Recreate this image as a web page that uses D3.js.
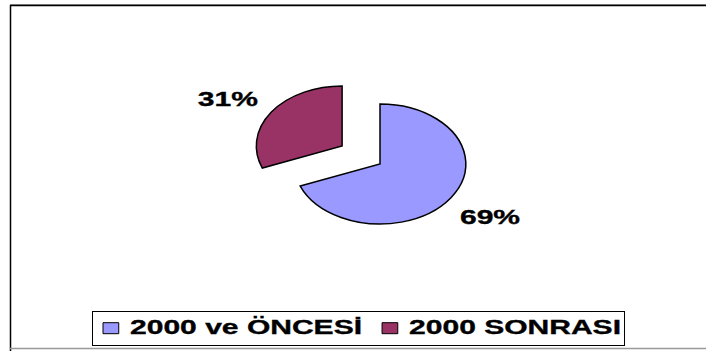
<!DOCTYPE html>
<html>
<head>
<meta charset="utf-8">
<script src="https://cdn.jsdelivr.net/npm/d3@7"></script>
<style>
  html, body { margin: 0; padding: 0; background: #fff; }
  svg { display: block; }
  text { font-family: "Liberation Sans", Arial, Helvetica, sans-serif; font-weight: bold; fill: #000;
         stroke: #000; stroke-width: 0.35px; }
</style>
</head>
<body>
<svg id="chart" width="706" height="351"></svg>
<script>
// ---- data ----
const categories = ["2000 ve ÖNCESİ", "2000 SONRASI"];
const values = [69, 31];
const labels = ["69%", "31%"];
const colors = ["#9999FF", "#993366"];
const explode = [0, 0.534];

// ---- layout ----
const W = 706, H = 351;
const sx = 1.43;          // horizontal stretch of the original picture
const R = 60;             // pie radius (before stretch)
const cx = 380, cy = 164; // pie centre
const fontSize = 21;

const svg = d3.select("#chart");

// frame
svg.append("line").attr("x1", 10).attr("y1", 4.5).attr("x2", W).attr("y2", 4.5)
  .attr("stroke", "#999").attr("stroke-width", 1);
svg.append("line").attr("x1", 10).attr("y1", 5.5).attr("x2", W).attr("y2", 5.5)
  .attr("stroke", "#000").attr("stroke-width", 1.5);
svg.append("line").attr("x1", 10.5).attr("y1", 5).attr("x2", 10.5).attr("y2", H)
  .attr("stroke", "#000").attr("stroke-width", 1.5);
svg.append("line").attr("x1", 10).attr("y1", 348.5).attr("x2", W).attr("y2", 348.5)
  .attr("stroke", "#999").attr("stroke-width", 1.5);

// pie
const pie = d3.pie().sort(null).value(d => d)(values);
const arc = d3.arc().innerRadius(0).outerRadius(R);
const labelArc = d3.arc().innerRadius(R * 1.55).outerRadius(R * 1.55);

const g = svg.append("g").attr("transform", `translate(${cx},${cy}) scale(${sx},1)`);

const slices = g.selectAll("g.slice").data(pie).enter().append("g")
  .attr("class", "slice")
  .attr("transform", (d, i) => {
    const a = (d.startAngle + d.endAngle) / 2;
    const k = explode[i] * R;
    return `translate(${k * Math.sin(a)},${-k * Math.cos(a)})`;
  });

slices.append("path")
  .attr("d", arc)
  .attr("fill", (d, i) => colors[i])
  .attr("stroke", "#000")
  .attr("stroke-width", 1.5)
  .attr("stroke-linejoin", "miter")
  .attr("vector-effect", "non-scaling-stroke");

slices.append("text")
  .attr("transform", (d, i) => {
    const c = labelArc.centroid(d);
    return `translate(${c[0] - (i === 1 ? 3 : 0)},${c[1] + (i === 1 ? 5 : 0)})`;
  })
  .attr("text-anchor", "middle")
  .attr("dy", "0.35em")
  .attr("font-size", fontSize)
  .text((d, i) => labels[i]);

// legend
const lx = 92, ly = 311, lh = 34;
const legend = svg.append("g").attr("transform", `translate(${lx},${ly})`);
const box = legend.append("rect")
  .attr("x", 0.5).attr("y", 0.5).attr("height", lh)
  .attr("fill", "#fff").attr("stroke", "#000").attr("stroke-width", 1);
const inner = legend.append("g").attr("transform", `scale(${sx},1)`);

let xpos = 7.7;
categories.forEach((c, i) => {
  inner.append("rect")
    .attr("x", xpos).attr("y", 11.7).attr("width", 11).attr("height", 11)
    .attr("fill", colors[i]).attr("stroke", "#000").attr("stroke-width", 1)
    .attr("vector-effect", "non-scaling-stroke");
  const t = inner.append("text")
    .attr("x", xpos + 18.9).attr("y", 23.5)
    .attr("font-size", fontSize)
    .text(c);
  xpos = xpos + 18.9 + t.node().getComputedTextLength() + 14;
});
box.attr("width", (xpos - 14) * sx + 3);
</script>
</body>
</html>
